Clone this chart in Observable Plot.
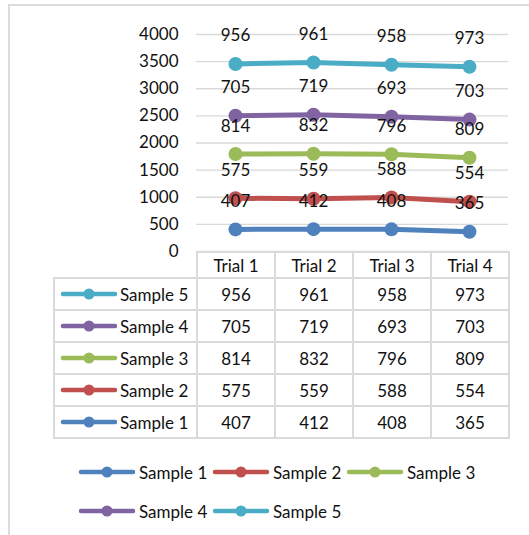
<!DOCTYPE html>
<html>
<head>
<meta charset="utf-8">
<script src="https://cdn.jsdelivr.net/npm/d3@7"></script>
<script src="https://cdn.jsdelivr.net/npm/@observablehq/plot@0.6"></script>
<style>
  html, body { margin: 0; padding: 0; background: #fff; }
  body { width: 529px; height: 535px; position: relative; overflow: hidden;
         font-family: Lato, "Open Sans", sans-serif; color: #111; }
  #frame { position: absolute; left: 8px; top: 4px; width: 540px; height: 560px;
           border-left: 2px solid #dcdcdc; border-top: 2px solid #dcdcdc; }
  #chart { position: absolute; left: 0; top: 0; }
  #table { position: absolute; left: 53px; top: 251px; border-collapse: collapse;
           table-layout: fixed; width: 456px; font-size: 17px; }
  #table td { border: 2px solid #dadada; text-align: center; padding: 0; }
  #table tr.head td { height: 24px; }
  #table tr.row td { height: 30px; }
  #table td.blank { border-top: none; border-left: none; }
  #table td.name { text-align: left; padding-left: 5px; }
  .key { display: flex; align-items: center; }
  .key svg { flex: none; }
  #legend { position: absolute; left: 78px; top: 460px; width: 402px;
            display: flex; flex-wrap: wrap; row-gap: 15px; font-size: 17px; }
  #legend .key { width: 134px; height: 24px; }
  #legend .key span { margin-left: 3px; }
  #table .key span { margin-left: 2px; }
</style>
</head>
<body>
<div id="frame"></div>
<div id="chart"></div>
<table id="table"></table>
<div id="legend"></div>
<script>
// Trials on the x axis and the five samples, stacked bottom to top
const trials = ["Trial 1", "Trial 2", "Trial 3", "Trial 4"];
const samples = ["Sample 1", "Sample 2", "Sample 3", "Sample 4", "Sample 5"];
const sample1 = [407, 412, 408, 365];
const sample2 = [575, 559, 588, 554];
const sample3 = [814, 832, 796, 809];
const sample4 = [705, 719, 693, 703];
const sample5 = [956, 961, 958, 973];
const yTicks = [0, 500, 1000, 1500, 2000, 2500, 3000, 3500, 4000];
const colors = ["#4F81BD", "#C0504D", "#9BBB59", "#8064A2", "#4BACC6"];

const values = [sample1, sample2, sample3, sample4, sample5];
const rows = samples.flatMap((s, i) =>
  trials.map((t, j) => ({sample: s, trial: t, value: values[i][j]})));

const stacked = (opts) => Plot.stackY2({x: "trial", y: "value", z: "sample", ...opts});

const chart = Plot.plot({
  width: 529,
  height: 252,
  marginLeft: 196,
  marginRight: 21,
  marginTop: 34,
  marginBottom: 1,
  style: {fontFamily: "Lato, sans-serif", fontSize: "17px", color: "#111", background: "transparent", overflow: "visible"},
  x: {type: "point", domain: trials, padding: 0.5, axis: null},
  y: {domain: [0, 4000]},
  color: {domain: samples, range: colors},
  marks: [
    Plot.gridY(yTicks, {stroke: "#d9d9d9", strokeOpacity: 1, strokeWidth: 1.4}),
    Plot.axisY(yTicks, {tickSize: 0, tickPadding: 18, label: null, fontSize: 17, fill: "#111", tickFormat: d => String(d)}),
    Plot.lineY(rows, stacked({stroke: "sample", strokeWidth: 5, strokeLinejoin: "round", strokeLinecap: "round"})),
    Plot.dot(rows, stacked({fill: "sample", r: 7})),
    Plot.text(rows, stacked({text: d => String(d.value), dy: -28, fontSize: 17, fill: "#111"}))
  ]
});
document.getElementById("chart").append(chart);

// Line-and-marker key used in the data table and the legend
function key(color, label, w, sw, r) {
  const div = d3.create("div").attr("class", "key");
  const svg = div.append("svg").attr("width", w).attr("height", 14);
  svg.append("line").attr("x1", 3).attr("x2", w - 3).attr("y1", 7).attr("y2", 7)
    .attr("stroke", color).attr("stroke-width", sw).attr("stroke-linecap", "round");
  svg.append("circle").attr("cx", w / 2).attr("cy", 7).attr("r", r).attr("fill", color);
  div.append("span").text(label);
  return div.node();
}

// Data table under the plot, top row is Sample 5
const table = d3.select("#table");
const cols = table.append("colgroup");
cols.append("col").style("width", "143px");
trials.forEach(() => cols.append("col").style("width", "78px"));
const head = table.append("tr").attr("class", "head");
head.append("td").attr("class", "blank");
trials.forEach(t => head.append("td").text(t));
for (let i = samples.length - 1; i >= 0; i--) {
  const tr = table.append("tr").attr("class", "row");
  tr.append("td").attr("class", "name").node().append(key(colors[i], samples[i], 58, 4.5, 5.5));
  values[i].forEach(v => tr.append("td").text(v));
}

// Legend below the table
const legend = d3.select("#legend");
samples.forEach((s, i) => legend.node().append(key(colors[i], s, 58, 4.5, 5.5)));
</script>
</body>
</html>
